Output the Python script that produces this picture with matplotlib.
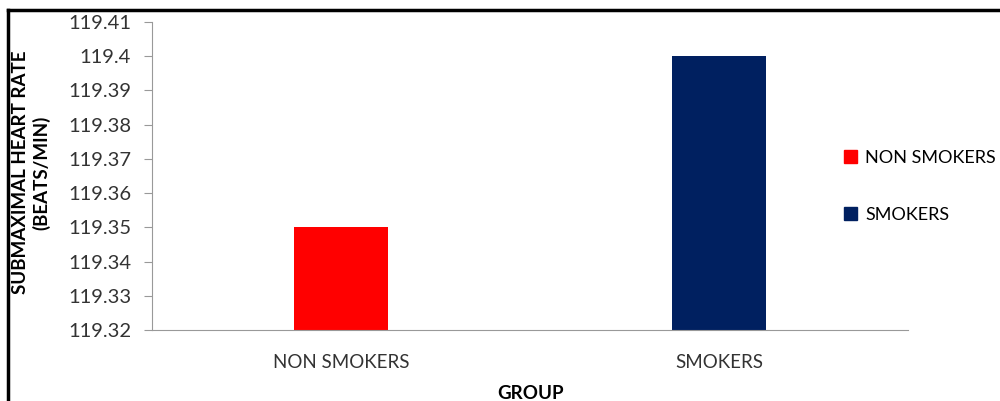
import matplotlib.pyplot as plt
from matplotlib.lines import Line2D
from matplotlib.patches import Patch

groups = ['NON SMOKERS', 'SMOKERS']
heart_rate = [119.35, 119.40]
colors = ['#ff0000', '#002060']
yticks = [119.32, 119.33, 119.34, 119.35, 119.36, 119.37, 119.38, 119.39, 119.40, 119.41]
ytick_labels = ['119.32', '119.33', '119.34', '119.35', '119.36', '119.37', '119.38', '119.39', '119.4', '119.41']

plt.rcParams['font.family'] = ['Lato', 'DejaVu Sans']

fig = plt.figure(figsize=(10, 4.01), dpi=100)
ax = fig.add_axes([0.152, 1 - 330 / 401, 0.756, 308 / 401])

ax.bar(range(len(groups)), heart_rate, width=0.25, color=colors, bottom=0)
ax.set_xlim(-0.5, 1.5)
ax.set_ylim(119.32, 119.41)
ax.set_yticks(yticks)
ax.set_yticklabels(ytick_labels, fontsize=14.5, color='#333333')
ax.set_xticks(range(len(groups)))
ax.set_xticklabels(groups, fontsize=13.5, color='#333333')
ax.tick_params(axis='x', length=0, pad=17)
ax.tick_params(axis='y', length=6, color='#999999', pad=9)
for side in ['top', 'right']:
    ax.spines[side].set_visible(False)
for side in ['left', 'bottom']:
    ax.spines[side].set_color('#999999')

fig.text(0.031, 0.57, 'SUBMAXIMAL HEART RATE\n(BEATS/MIN)', rotation=90, ha='center',
         va='center', fontsize=13.5, fontweight='bold', linespacing=1.25)
fig.text(0.530, 0.018, 'GROUP', ha='center', va='center', fontsize=13.5, fontweight='bold')

handles = [Patch(color=c) for c in colors]
fig.legend(handles, groups, loc='upper left', bbox_to_anchor=(0.837, 0.645), frameon=False,
           fontsize=13, handlelength=0.7, handleheight=0.7, handletextpad=0.45,
           labelspacing=2.3, borderaxespad=0)

# outer frame (only the top and left edges fall inside the canvas)
fig.add_artist(Line2D([0.008, 1.0], [1 - 10 / 401, 1 - 10 / 401], color='black', lw=2.5,
                      transform=fig.transFigure))
fig.add_artist(Line2D([0.008, 0.008], [0, 1 - 10 / 401], color='black', lw=2.5,
                      transform=fig.transFigure))

fig.savefig('out.png', dpi=100)
